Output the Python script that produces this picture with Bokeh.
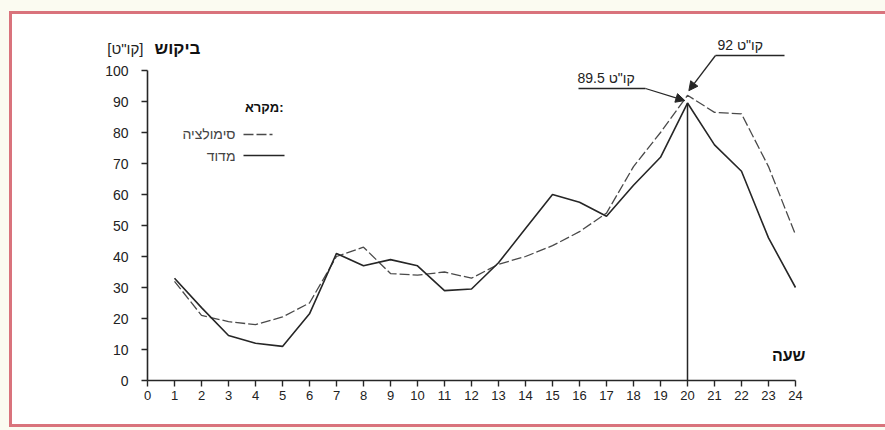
from bokeh.plotting import figure
from bokeh.models import Range1d, Label, Arrow, NormalHead, FixedTicker
from bokeh.embed import file_html
from bokeh.resources import INLINE

# Hourly demand: simulated vs. measured
hours = list(range(1, 25))
simulation = [32, 21, 19, 18, 20.5, 25, 40, 43, 34.5, 34, 35, 33,
              37.5, 40, 43.5, 48, 54, 69, 80, 92, 86.5, 86, 69, 47]
measured = [33, 23.5, 14.5, 12, 11, 21.5, 41, 37, 39, 37, 29, 29.5,
            38, 49, 60, 57.5, 53, 63, 72, 89.5, 76, 67.5, 46, 30]
x_ticks = list(range(0, 25))
y_ticks = list(range(0, 101, 10))
peak_hour = 20

y_title = "ביקוש"
y_unit = '[קו"ט]'
x_title = "שעה"
legend_title = "מקרא:"
sim_name = "סימולציה"
meas_name = "מדוד"
unit = 'קו"ט'

# page geometry (pixels)
W, H = 885, 430
PANEL_L, PANEL_B = 50, 25      # space reserved for the axis side panels
AXIS_X, BASE = 147, 380        # column of the demand axis, row of the hour axis
PX_X, PX_Y = 27.0, 3.1         # pixels per hour / per demand unit

FONT = "Liberation Sans, DejaVu Sans"
INK = "#262626"
DASH_INK = "#4a4a4a"
PAPER = "#fbfbf1"
FRAME = "#d9737c"


def dx(px):
    return (px - AXIS_X) / PX_X


def dy(py):
    return (BASE - py) / PX_Y


# page: cream margin, pink rule, white sheet (painted behind the transparent canvas)
page_bg = (
    "linear-gradient(#ffffff,#ffffff) 12px 14px / 880px 410px no-repeat, "
    f"linear-gradient({FRAME},{FRAME}) 9px 11px / 880px 416px no-repeat, "
    f"{PAPER}"
)

p = figure(width=W, height=H, output_backend="svg", toolbar_location=None,
           x_range=Range1d(dx(PANEL_L), dx(W)), y_range=Range1d(dy(H - PANEL_B), dy(0)),
           min_border_left=PANEL_L, min_border_right=0, min_border_top=0,
           min_border_bottom=PANEL_B,
           styles={"background": page_bg})
p.grid.visible = False
p.outline_line_color = None
p.background_fill_color = None
p.border_fill_color = None

for ax in (p.xaxis[0], p.yaxis[0]):
    ax.axis_line_color = INK
    ax.axis_line_width = 1.6
    ax.major_tick_line_color = INK
    ax.major_tick_line_width = 1.4
    ax.major_tick_out = 6
    ax.major_tick_in = 0
    ax.minor_tick_line_color = None
    ax.major_label_text_font = FONT
    ax.major_label_text_color = "#222"

p.xaxis.major_label_text_font_size = "13px"
p.yaxis.major_label_text_font_size = "14px"
p.xaxis.ticker = FixedTicker(ticks=x_ticks)
p.yaxis.ticker = FixedTicker(ticks=y_ticks)
p.xaxis.bounds = (x_ticks[0], x_ticks[-1])
p.yaxis.bounds = (y_ticks[0], y_ticks[-1])
p.xaxis.fixed_location = y_ticks[0]
p.yaxis.fixed_location = x_ticks[0]
p.xaxis.major_label_standoff = 4
p.yaxis.major_label_standoff = 13

# series
p.line(hours, simulation, line_color=DASH_INK, line_width=1.3, line_dash="10 3")
p.line(hours, measured, line_color=INK, line_width=1.6)

# drop line at the evening peak
pk = hours.index(peak_hour)
p.segment(x0=[peak_hour], y0=[0], x1=[peak_hour], y1=[measured[pk]],
          line_color=INK, line_width=1.5)

# peak callouts
p.add_layout(Label(x=dx(717), y=dy(44), text=f"{unit} {simulation[pk]:g}",
                   text_font=FONT, text_font_size="14px", text_color="#222",
                   text_baseline="middle", text_align="left"))
p.segment(x0=[dx(715)], y0=[dy(55)], x1=[dx(784)], y1=[dy(55)],
          line_color=INK, line_width=1.3)
p.add_layout(Arrow(end=NormalHead(size=9, fill_color=INK, line_color=INK),
                   x_start=dx(715), y_start=dy(55),
                   x_end=peak_hour + 0.05, y_end=simulation[pk] + 1.5,
                   line_color=INK, line_width=1.3))

p.add_layout(Label(x=dx(577), y=dy(77), text=f"{unit} {measured[pk]:g}",
                   text_font=FONT, text_font_size="14px", text_color="#222",
                   text_baseline="middle", text_align="left"))
p.segment(x0=[dx(578)], y0=[dy(88)], x1=[dx(645)], y1=[dy(88)],
          line_color=INK, line_width=1.3)
p.add_layout(Arrow(end=NormalHead(size=9, fill_color=INK, line_color=INK),
                   x_start=dx(645), y_start=dy(88),
                   x_end=peak_hour - 0.1, y_end=measured[pk] + 0.8,
                   line_color=INK, line_width=1.3))

# axis titles
p.add_layout(Label(x=dx(200), y=dy(48), text=y_title, text_font=FONT,
                   text_font_size="17px", text_font_style="bold", text_color="#111",
                   text_align="right", text_baseline="middle"))
p.add_layout(Label(x=dx(143), y=dy(48), text=y_unit, text_font=FONT,
                   text_font_size="15px", text_color="#222",
                   text_align="right", text_baseline="middle"))
p.add_layout(Label(x=dx(805), y=dy(355), text=x_title, text_font=FONT,
                   text_font_size="16px", text_font_style="bold", text_color="#111",
                   text_align="right", text_baseline="middle"))

# legend (labels to the left of their swatches)
p.add_layout(Label(x=dx(283), y=dy(107), text=legend_title, text_font=FONT,
                   text_font_size="13px", text_font_style="bold", text_color="#111",
                   text_align="right", text_baseline="middle"))
p.add_layout(Label(x=dx(235), y=dy(133), text=sim_name, text_font=FONT,
                   text_font_size="14px", text_color="#444",
                   text_align="right", text_baseline="middle"))
p.add_layout(Label(x=dx(235), y=dy(155), text=meas_name, text_font=FONT,
                   text_font_size="14px", text_color="#444",
                   text_align="right", text_baseline="middle"))
p.segment(x0=[dx(243)], y0=[dy(134)], x1=[dx(272)], y1=[dy(134)],
          line_color=DASH_INK, line_width=1.3, line_dash="10 3")
p.segment(x0=[dx(243)], y0=[dy(155)], x1=[dx(284)], y1=[dy(155)],
          line_color=INK, line_width=1.6)

open("out.html", "w").write(file_html(p, INLINE))
